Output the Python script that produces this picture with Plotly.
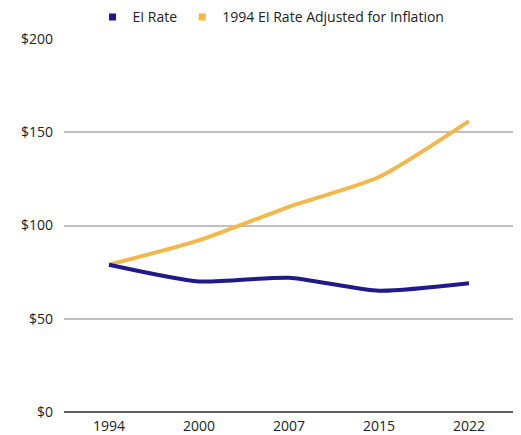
import plotly.graph_objects as go

years = ["1994", "2000", "2007", "2015", "2022"]
ei_rate = [79, 70, 72, 65, 69]
adjusted = [79, 92, 110, 126, 156]

navy = "#1f1a8a"
gold = "#f2b84b"

fig = go.Figure()
fig.add_trace(go.Scatter(x=years, y=adjusted, mode="lines", line=dict(color=gold, width=4, shape="spline", smoothing=0.6),
                         showlegend=False, hoverinfo="skip"))
fig.add_trace(go.Scatter(x=years, y=ei_rate, mode="lines", line=dict(color=navy, width=4, shape="spline", smoothing=0.6),
                         showlegend=False, hoverinfo="skip"))
# legend entries with square markers
fig.add_trace(go.Scatter(x=[None], y=[None], mode="markers", name="EI Rate",
                         marker=dict(symbol="square", size=7, color=navy)))
fig.add_trace(go.Scatter(x=[None], y=[None], mode="markers", name="1994 EI Rate Adjusted for Inflation",
                         marker=dict(symbol="square", size=7, color=gold)))

fig.update_layout(
    width=521, height=435,
    margin=dict(l=56, r=15, t=31, b=31, autoexpand=False),
    paper_bgcolor="white", plot_bgcolor="white",
    font=dict(family="Open Sans", size=14, color="#222222"),
    legend=dict(orientation="h", x=0.46, xanchor="center", y=1.058, yanchor="middle",
                font=dict(size=14), itemwidth=30, traceorder="normal", tracegroupgap=0),
    xaxis=dict(type="category", range=[-0.5, 4.5], showgrid=False, showline=False, ticks="", zeroline=False,
               tickfont=dict(size=14), ticklabelstandoff=4),
    yaxis=dict(range=[0, 200], tickvals=[0, 50, 100, 150, 200],
               ticktext=["$0", "$50", "$100", "$150", "$200"],
               showgrid=True, gridcolor="#c0c0c0", gridwidth=1.5,
               zeroline=True, zerolinecolor="#5f5f5f", zerolinewidth=1.5,
               ticks="", ticklabelstandoff=10, tickfont=dict(size=14)),
)

fig.write_html("out.html")
